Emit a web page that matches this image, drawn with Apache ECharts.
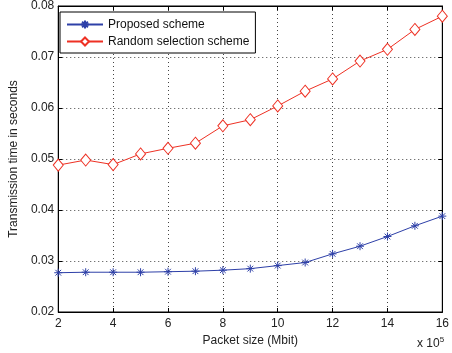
<!DOCTYPE html>
<html><head><meta charset="utf-8">
<script src="https://cdn.jsdelivr.net/npm/echarts@6/dist/echarts.min.js"></script>
<style>html,body{margin:0;padding:0;background:#fff}#c{width:452px;height:353px}</style>
</head><body><div id="c"></div>
<script>
var packetSize = [2,3,4,5,6,7,8,9,10,11,12,13,14,15,16];
var proposed = [0.0277,0.0278,0.0278,0.0278,0.0279,0.0280,0.0282,0.0285,0.0291,0.0297,0.0314,0.0329,0.0348,0.0369,0.0388];
var randomSel = [0.0488,0.0498,0.0489,0.0510,0.0521,0.0531,0.0565,0.0577,0.0604,0.0633,0.0657,0.0692,0.0715,0.0754,0.0780];
var xTicks = [2,4,6,8,10,12,14,16];
var yTicks = [0.02,0.03,0.04,0.05,0.06,0.07,0.08];

var BLUE = '#2e40a8', RED = '#ee3124';
var FONT = 'Liberation Sans, Arial, sans-serif';
function pairs(xs, ys){ return xs.map(function(x,i){ return [x, ys[i]]; }); }
var star = 'path://M0,-5L0,5M-5,0L5,0M-3.6,-3.6L3.6,3.6M-3.6,3.6L3.6,-3.6';
var chart = echarts.init(document.getElementById('c'), null, {renderer:'canvas'});
var gridLine = {show:true, lineStyle:{color:'#444', type:[1,3], width:1}};
var lbl = {color:'#222', fontSize:12, fontFamily:FONT};
chart.setOption({
  animation:false,
  backgroundColor:'#fff',
  grid:{left:55, right:8, top:6, bottom:41, show:true, borderColor:'#000', borderWidth:1},
  legend:{
    left:60, top:12, orient:'vertical', itemGap:4, itemWidth:36, itemHeight:10,
    borderColor:'#000', borderWidth:1, padding:[6,6,5,6], backgroundColor:'#fff',
    textStyle:{color:'#111', fontSize:12, fontFamily:FONT, lineHeight:13},
    data:['Proposed scheme','Random selection scheme']
  },
  xAxis:[{
    type:'value', min:xTicks[0], max:xTicks[xTicks.length-1], interval:2,
    name:'Packet size (Mbit)', nameLocation:'middle', nameGap:22,
    nameTextStyle:{color:'#222', fontSize:12, fontFamily:FONT},
    axisLine:{lineStyle:{color:'#000'}}, axisTick:{inside:true, length:4, lineStyle:{color:'#000'}},
    axisLabel:Object.assign({margin:6}, lbl), splitLine:gridLine
  },{
    type:'value', position:'top', min:2, max:16, interval:2,
    axisLine:{lineStyle:{color:'#000'}}, axisTick:{inside:true, length:4, lineStyle:{color:'#000'}},
    axisLabel:{show:false}, splitLine:{show:false}
  }],
  yAxis:[{
    type:'value', min:yTicks[0], max:yTicks[yTicks.length-1], interval:0.01,
    name:'Transmission time in seconds', nameLocation:'middle', nameGap:32,
    nameTextStyle:{color:'#222', fontSize:12, fontFamily:FONT},
    axisLine:{show:true, lineStyle:{color:'#000'}}, axisTick:{show:true, inside:true, length:4, lineStyle:{color:'#000'}},
    axisLabel:Object.assign({margin:4, formatter:function(v){return v.toFixed(2);}}, lbl), splitLine:gridLine
  },{
    type:'value', position:'right', min:0.02, max:0.08, interval:0.01,
    axisLine:{show:true, lineStyle:{color:'#000'}}, axisTick:{show:true, inside:true, length:4, lineStyle:{color:'#000'}},
    axisLabel:{show:false}, splitLine:{show:false}
  }],
  series:[{
    name:'Proposed scheme', type:'line', data:pairs(packetSize, proposed),
    symbol:star, symbolSize:8, showAllSymbol:true,
    lineStyle:{color:BLUE, width:1}, itemStyle:{color:BLUE, borderColor:BLUE, borderWidth:1}
  },{
    name:'Random selection scheme', type:'line', data:pairs(packetSize, randomSel),
    symbol:'diamond', symbolSize:[10,12], showAllSymbol:true,
    lineStyle:{color:RED, width:1}, itemStyle:{color:'#fff', borderColor:RED, borderWidth:1}
  }],
  graphic:[{
    type:'text', left:417, top:336,
    style:{text:'x 10{s|5}', fill:'#222', font:'12px '+FONT,
      rich:{s:{fontSize:8, verticalAlign:'top', padding:[0,0,8,0], fill:'#222'}}}
  }]
});
</script></body></html>
